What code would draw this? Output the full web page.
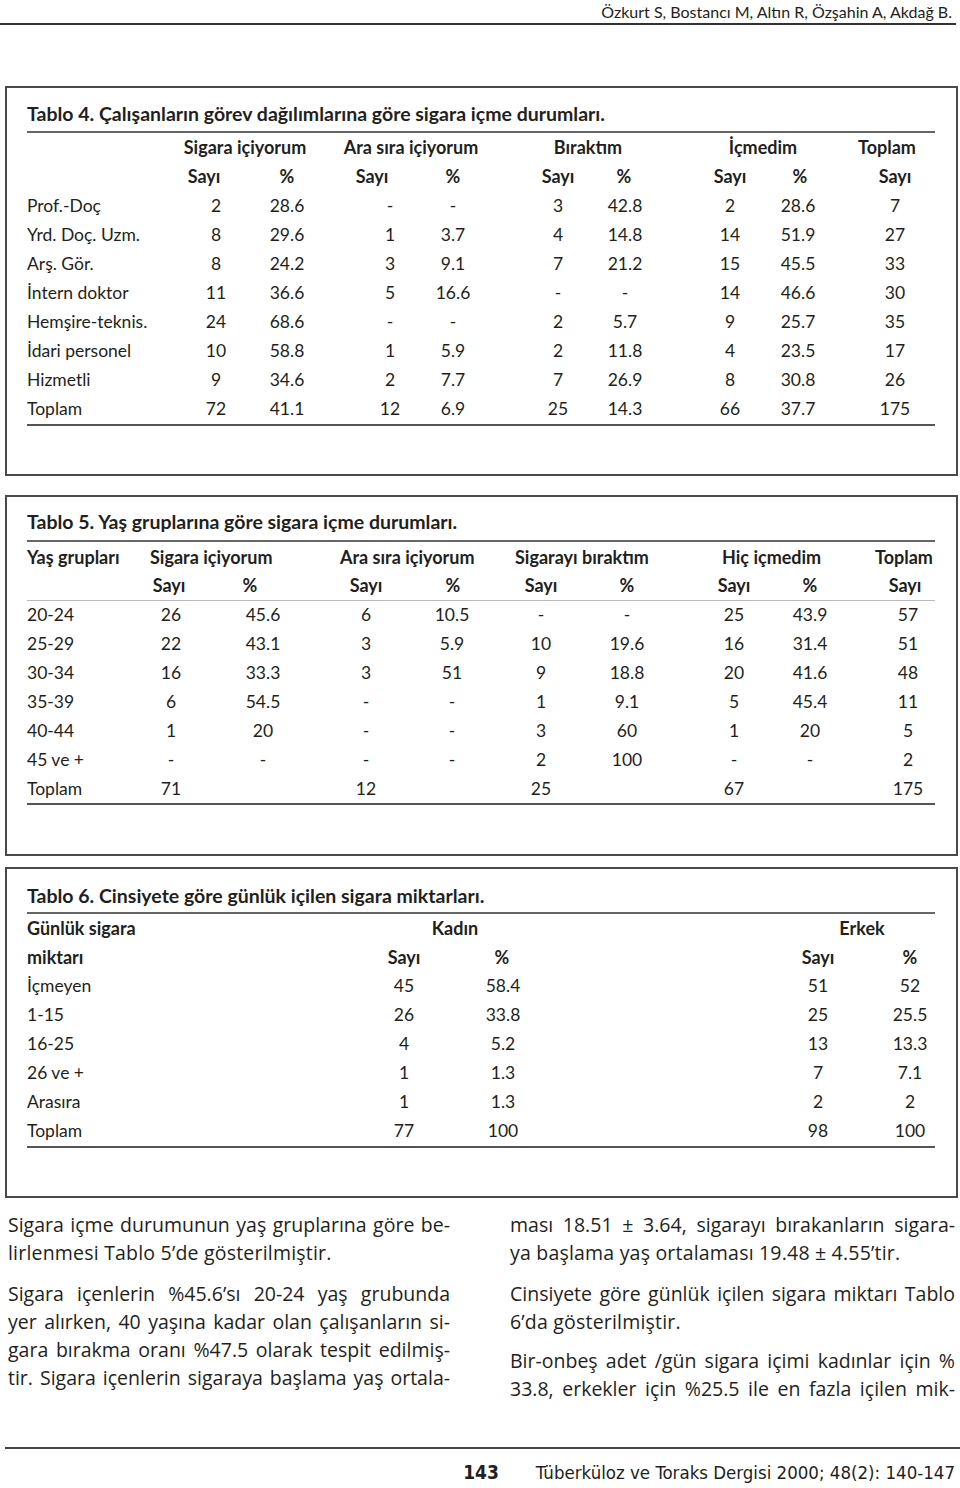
<!DOCTYPE html>
<html lang="tr">
<head>
<meta charset="utf-8">
<!--
  NOTE: The reference image is a journal page made of three data tables and body text;
  it contains no bars, points, lines or slices. The tables are therefore laid out with
  absolutely positioned HTML text built from the data arrays below. Chart.js is loaded
  as required but is not used to draw any of the content on this page.
-->
<script src="https://cdn.jsdelivr.net/npm/chart.js@4.4.1/dist/chart.umd.min.js"></script>
<style>
  html,body{margin:0;padding:0;background:#fff;}
  body{width:960px;height:1488px;position:relative;overflow:hidden;font-family:Lato,"Open Sans",sans-serif;color:#231f20;}
  .t{position:absolute;white-space:nowrap;line-height:22px;height:22px;font-size:17.5px;}
  .c{transform:translateX(-50%);}
  .b{font-weight:bold;font-size:18px;}
  .hl{position:absolute;background:#555;}
  .box{position:absolute;border:2px solid #4a4a4a;box-sizing:border-box;}
  .p{position:absolute;font-family:"Open Sans",Lato,sans-serif;font-size:19.5px;letter-spacing:0.2px;line-height:28px;height:28px;white-space:nowrap;}
  .j{text-align:justify;text-align-last:justify;white-space:normal;overflow:hidden;letter-spacing:0;}
</style>
</head>
<body>
<script>
// ---------- Tablo 4 ----------
const t4Rows = ["Prof.-Doç","Yrd. Doç. Uzm.","Arş. Gör.","İntern doktor","Hemşire-teknis.","İdari personel","Hizmetli","Toplam"];
const t4SigaraSayi = ["2","8","8","11","24","10","9","72"];
const t4SigaraPct  = ["28.6","29.6","24.2","36.6","68.6","58.8","34.6","41.1"];
const t4AraSayi    = ["-","1","3","5","-","1","2","12"];
const t4AraPct     = ["-","3.7","9.1","16.6","-","5.9","7.7","6.9"];
const t4BirakSayi  = ["3","4","7","-","2","2","7","25"];
const t4BirakPct   = ["42.8","14.8","21.2","-","5.7","11.8","26.9","14.3"];
const t4IcmeSayi   = ["2","14","15","14","9","4","8","66"];
const t4IcmePct    = ["28.6","51.9","45.5","46.6","25.7","23.5","30.8","37.7"];
const t4Toplam     = ["7","27","33","30","35","17","26","175"];
const t4Groups = ["Sigara içiyorum","Ara sıra içiyorum","Bıraktım","İçmedim","Toplam"];
const t4Sub = ["Sayı","%","Sayı","%","Sayı","%","Sayı","%","Sayı"];

// ---------- Tablo 5 ----------
const t5Rows = ["20-24","25-29","30-34","35-39","40-44","45 ve +","Toplam"];
const t5SigaraSayi = ["26","22","16","6","1","-","71"];
const t5SigaraPct  = ["45.6","43.1","33.3","54.5","20","-",""];
const t5AraSayi    = ["6","3","3","-","-","-","12"];
const t5AraPct     = ["10.5","5.9","51","-","-","-",""];
const t5BirakSayi  = ["-","10","9","1","3","2","25"];
const t5BirakPct   = ["-","19.6","18.8","9.1","60","100",""];
const t5HicSayi    = ["25","16","20","5","1","-","67"];
const t5HicPct     = ["43.9","31.4","41.6","45.4","20","-",""];
const t5Toplam     = ["57","51","48","11","5","2","175"];
const t5Groups = ["Yaş grupları","Sigara içiyorum","Ara sıra içiyorum","Sigarayı bıraktım","Hiç içmedim","Toplam"];
const t5Sub = ["Sayı","%","Sayı","%","Sayı","%","Sayı","%","Sayı"];

// ---------- Tablo 6 ----------
const t6Rows = ["İçmeyen","1-15","16-25","26 ve +","Arasıra","Toplam"];
const t6KadinSayi = ["45","26","4","1","1","77"];
const t6KadinPct  = ["58.4","33.8","5.2","1.3","1.3","100"];
const t6ErkekSayi = ["51","25","13","7","2","98"];
const t6ErkekPct  = ["52","25.5","13.3","7.1","2","100"];
const t6Sub = ["Sayı","%","Sayı","%"];

// ---------- text ----------
const headerText = "Özkurt S, Bostancı M, Altın R, Özşahin A, Akdağ B.";
const titles = ["Tablo 4. Çalışanların görev dağılımlarına göre sigara içme durumları.",
                "Tablo 5. Yaş gruplarına göre sigara içme durumları.",
                "Tablo 6. Cinsiyete göre günlük içilen sigara miktarları."];
const leftLines = [
  ["Sigara içme durumunun yaş gruplarına göre be-",true],
  ["lirlenmesi Tablo 5’de gösterilmiştir.",false],
  null,
  ["Sigara içenlerin %45.6’sı 20-24 yaş grubunda",true],
  ["yer alırken, 40 yaşına kadar olan çalışanların si-",true],
  ["gara bırakma oranı %47.5 olarak tespit edilmiş-",true],
  ["tir. Sigara içenlerin sigaraya başlama yaş ortala-",true]
];
const rightLines = [
  ["ması 18.51 ± 3.64, sigarayı bırakanların sigara-",true,1225],
  ["ya başlama yaş ortalaması 19.48 ± 4.55’tir.",false,1253],
  ["Cinsiyete göre günlük içilen sigara miktarı Tablo",true,1294],
  ["6’da gösterilmiştir.",false,1322],
  ["Bir-onbeş adet /gün sigara içimi kadınlar için %",true,1361],
  ["33.8, erkekler için %25.5 ile en fazla içilen mik-",true,1389]
];
const pageNo = "143";
const journal = "Tüberküloz ve Toraks Dergisi 2000; 48(2): 140-147";

// ---------- helpers ----------
const B = document.body;
function txt(s, x, cy, o={}) {
  const d = document.createElement('div');
  d.className = 't' + (o.center ? ' c' : '') + (o.bold ? ' b' : '');
  d.textContent = s;
  d.style.left = x + 'px';
  d.style.top = (cy - 11) + 'px';
  if (o.size) d.style.fontSize = o.size + 'px';
  if (o.font) d.style.fontFamily = o.font;
  if (o.right) { d.style.left = 'auto'; d.style.right = (960 - x) + 'px'; }
  B.appendChild(d);
  return d;
}
function line(x1, x2, y, h, col) {
  const d = document.createElement('div');
  d.className = 'hl';
  d.style.left = x1 + 'px'; d.style.width = (x2 - x1) + 'px';
  d.style.top = (y - h/2) + 'px'; d.style.height = h + 'px';
  if (col) d.style.background = col;
  B.appendChild(d);
}
function box(x, y, w, h) {
  const d = document.createElement('div');
  d.className = 'box';
  d.style.left = x + 'px'; d.style.top = y + 'px';
  d.style.width = w + 'px'; d.style.height = h + 'px';
  B.appendChild(d);
}

// page header
txt(headerText, 952, 12, {right:true, size:16});
line(0, 956, 24, 1.5, '#333');

// boxes
box(5, 86, 953, 390);
box(5, 495, 953, 361);
box(5, 867, 953, 331);

// ---- Tablo 4 layout ----
txt(titles[0], 27, 114, {bold:true, size:19.5});
line(27, 935, 132, 2.5, '#666');
[245, 411, 588, 763, 887].forEach((x,i)=>txt(t4Groups[i], x, 147, {center:true, bold:true}));
[204, 287, 372, 453, 558, 624, 730, 800, 895].forEach((x,i)=>txt(t4Sub[i], x, 176, {center:true, bold:true}));
const t4Cols = [t4SigaraSayi,t4SigaraPct,t4AraSayi,t4AraPct,t4BirakSayi,t4BirakPct,t4IcmeSayi,t4IcmePct,t4Toplam];
const t4X = [216, 287, 390, 453, 558, 625, 730, 798, 895];
t4Rows.forEach((r,i)=>{
  const y = 206 + 29*i;
  txt(r, 27, y);
  t4Cols.forEach((col,j)=>txt(col[i], t4X[j], y, {center:true}));
});
line(27, 935, 425, 2, '#555');

// ---- Tablo 5 layout ----
txt(titles[1], 27, 522, {bold:true, size:19.5});
line(27, 935, 541, 2.5, '#666');
[27, 150, 340, 515, 722, 875].forEach((x,i)=>txt(t5Groups[i], x, 557, {bold:true}));
[169, 250, 366, 453, 541, 627, 734, 810, 905].forEach((x,i)=>txt(t5Sub[i], x, 585, {center:true, bold:true}));
line(27, 935, 600, 1, '#bbb');
const t5Cols = [t5SigaraSayi,t5SigaraPct,t5AraSayi,t5AraPct,t5BirakSayi,t5BirakPct,t5HicSayi,t5HicPct,t5Toplam];
const t5X = [171, 263, 366, 452, 541, 627, 734, 810, 908];
t5Rows.forEach((r,i)=>{
  const y = 615 + 29*i;
  txt(r, 27, y);
  t5Cols.forEach((col,j)=>{ if (col[i] !== "") txt(col[i], t5X[j], y, {center:true}); });
});
line(27, 935, 804, 2, '#555');

// ---- Tablo 6 layout ----
txt(titles[2], 27, 896, {bold:true, size:19.5});
line(27, 935, 913, 2.5, '#666');
txt("Günlük sigara", 27, 928, {bold:true});
txt("Kadın", 455, 928, {center:true, bold:true});
txt("Erkek", 862, 928, {center:true, bold:true});
txt("miktarı", 27, 957, {bold:true});
[404, 502, 818, 910].forEach((x,i)=>txt(t6Sub[i], x, 957, {center:true, bold:true}));
const t6Cols = [t6KadinSayi,t6KadinPct,t6ErkekSayi,t6ErkekPct];
const t6X = [404, 503, 818, 910];
t6Rows.forEach((r,i)=>{
  const y = 986 + 29*i;
  txt(r, 27, y);
  t6Cols.forEach((col,j)=>txt(col[i], t6X[j], y, {center:true}));
});
line(27, 935, 1147, 2, '#555');

// ---- body text ----
function para(s, x, w, cy, just) {
  const d = document.createElement('div');
  d.className = 'p' + (just ? ' j' : '');
  d.textContent = s;
  d.style.left = x + 'px'; d.style.top = (cy - 14) + 'px';
  if (just) d.style.width = w + 'px';
  B.appendChild(d);
}
const leftY = [1225, 1253, null, 1294, 1322, 1350, 1378];
leftLines.forEach((l,i)=>{ if (l) para(l[0], 8, 442, leftY[i], l[1]); });
rightLines.forEach(l=>para(l[0], 510, 445, l[2], l[1]));

// ---- footer ----
line(5, 960, 1448, 2, '#444');
txt(pageNo, 481, 1472, {center:true, bold:true, size:19, font:'"Liberation Sans Narrow","DejaVu Sans Condensed",sans-serif'});
txt(journal, 955, 1473, {right:true, size:18.5, font:'"Liberation Sans Narrow","DejaVu Sans Condensed",sans-serif'});
</script>
</body>
</html>
